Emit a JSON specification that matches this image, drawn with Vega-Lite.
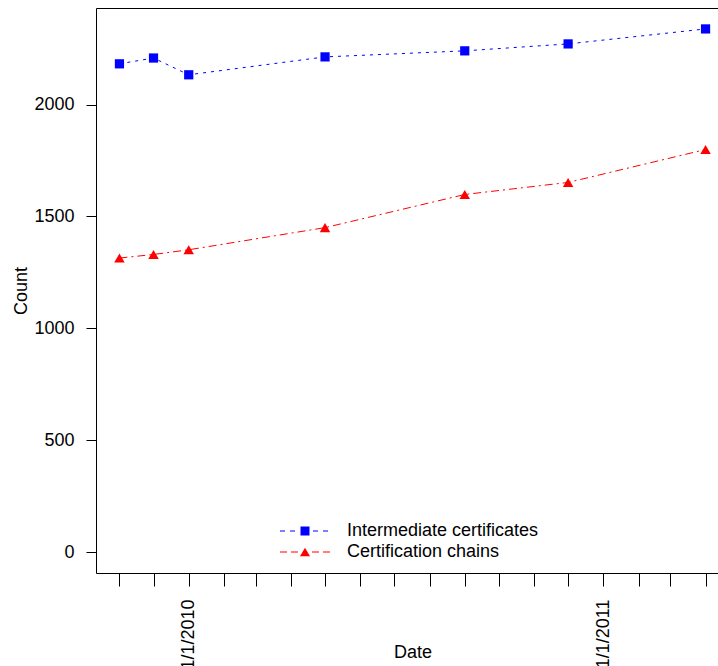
{
  "$schema": "https://vega.github.io/schema/vega-lite/v6.json",
  "autosize": "none",
  "width": 622,
  "height": 565,
  "padding": {"left": 96, "top": 8, "right": 0, "bottom": 93},
  "background": "white",
  "config": {
    "view": {"stroke": null},
    "font": "Liberation Sans",
    "axis": {
      "grid": false,
      "labelFont": "Liberation Sans",
      "labelFontSize": 18,
      "labelColor": "black",
      "titleFont": "Liberation Sans",
      "titleFontSize": 18,
      "titleFontWeight": "normal",
      "titleColor": "black",
      "domainColor": "black",
      "tickColor": "black",
      "domainWidth": 1,
      "tickWidth": 1
    },
    "legend": {
      "labelFont": "Liberation Sans",
      "labelFontSize": 18,
      "labelColor": "black",
      "labelLimit": 0,
      "orient": "none",
      "padding": 0,
      "symbolSize": 100,
      "symbolStrokeWidth": 0,
      "symbolOpacity": 1,
      "labelOffset": 33,
      "legendX": 200
    }
  },
  "data": {
    "values": [
      {"date": "2009-11-01", "series": "Intermediate certificates", "count": 2182},
      {"date": "2009-12-01", "series": "Intermediate certificates", "count": 2208},
      {"date": "2010-01-01", "series": "Intermediate certificates", "count": 2133},
      {"date": "2010-05-01", "series": "Intermediate certificates", "count": 2213},
      {"date": "2010-09-01", "series": "Intermediate certificates", "count": 2240},
      {"date": "2010-12-01", "series": "Intermediate certificates", "count": 2271},
      {"date": "2011-04-01", "series": "Intermediate certificates", "count": 2338},
      {"date": "2009-11-01", "series": "Certification chains", "count": 1314},
      {"date": "2009-12-01", "series": "Certification chains", "count": 1330},
      {"date": "2010-01-01", "series": "Certification chains", "count": 1351},
      {"date": "2010-05-01", "series": "Certification chains", "count": 1450},
      {"date": "2010-09-01", "series": "Certification chains", "count": 1598},
      {"date": "2010-12-01", "series": "Certification chains", "count": 1652},
      {"date": "2011-04-01", "series": "Certification chains", "count": 1799}
    ]
  },
  "resolve": {"axis": {"x": "independent"}, "scale": {"color": "independent"}},
  "layer": [
    {
      "transform": [{"filter": "datum.series === 'Intermediate certificates'"}],
      "mark": {"type": "line", "strokeWidth": 1, "color": "#0000ff", "strokeDash": [3, 5], "clip": true},
      "encoding": {
        "x": {
          "field": "date",
          "type": "temporal",
          "scale": {"type": "utc", "domain": [1255250304000, 1302562583663], "nice": false},
          "axis": {
            "title": "Date",
            "values": [
              1257033600000, 1259625600000, 1262304000000, 1264982400000,
              1267401600000, 1270080000000, 1272672000000, 1275350400000,
              1277942400000, 1280620800000, 1283299200000, 1285891200000,
              1288569600000, 1291161600000, 1293840000000, 1296518400000,
              1298937600000, 1301616000000
            ],
            "labelExpr": "utcFormat(datum.value, '%m') == '01' ? utcFormat(datum.value, '%-m/%-d/%Y') : ''",
            "labelAngle": 270,
            "labelOverlap": false,
            "labelFlush": false,
            "labelBound": false,
            "tickSize": 13,
            "labelPadding": 13,
            "titleX": 316.5,
            "titleY": 84.5,
            "titleBaseline": "alphabetic",
            "titleAnchor": "middle"
          }
        },
        "y": {
          "field": "count",
          "type": "quantitative",
          "title": "Count",
          "scale": {"domain": [-93.5, 2431.5], "nice": false, "zero": false},
          "axis": {
            "format": "d",
            "values": [0, 500, 1000, 1500, 2000],
            "tickSize": 10,
            "labelPadding": 12,
            "titleX": -69.5,
            "titleBaseline": "alphabetic"
          }
        }
      }
    },
    {
      "transform": [{"filter": "datum.series === 'Certification chains'"}],
      "mark": {"type": "line", "strokeWidth": 1, "color": "#ff0000", "strokeDash": [8, 4, 2, 4], "clip": true},
      "encoding": {
        "x": {"field": "date", "type": "temporal", "axis": null},
        "y": {"field": "count", "type": "quantitative", "title": "Count"}
      }
    },
    {
      "transform": [{"filter": "datum.series === 'Intermediate certificates'"}],
      "mark": {"type": "point", "shape": "square", "size": 85, "filled": true, "opacity": 1, "strokeWidth": 0, "clip": true},
      "encoding": {
        "x": {
          "field": "date",
          "type": "temporal",
          "axis": {"orient": "top", "title": null, "labels": false, "ticks": false, "domain": true}
        },
        "y": {"field": "count", "type": "quantitative", "title": "Count"},
        "color": {
          "field": "series",
          "type": "nominal",
          "scale": {"domain": ["Intermediate certificates"], "range": ["#0000ff"]},
          "legend": {
            "title": null,
            "legendY": 514,
            "symbolType": "M-5,-0.1H-4V0.1H-5Z M-3,-0.1H-2V0.1H-3Z M-0.9,-0.9H0.9V0.9H-0.9Z M1.6,-0.1H2.6V0.1H1.6Z M3.6,-0.1H4.6V0.1H3.6Z"
          }
        }
      }
    },
    {
      "transform": [{"filter": "datum.series === 'Certification chains'"}],
      "mark": {"type": "point", "shape": "triangle-up", "size": 110, "filled": true, "opacity": 1, "strokeWidth": 0, "clip": true},
      "encoding": {
        "x": {"field": "date", "type": "temporal", "axis": null},
        "y": {"field": "count", "type": "quantitative", "title": "Count"},
        "color": {
          "field": "series",
          "type": "nominal",
          "scale": {"domain": ["Certification chains"], "range": ["#ff0000"]},
          "legend": {
            "title": null,
            "legendY": 535,
            "symbolType": "M-5,-0.1H-3.6V0.1H-5Z M-2.8,-0.1H-1.4V0.1H-2.8Z M0,-0.866L1,0.866H-1Z M1.4,-0.1H2.8V0.1H1.4Z M3.6,-0.1H5V0.1H3.6Z"
          }
        }
      }
    }
  ]
}
